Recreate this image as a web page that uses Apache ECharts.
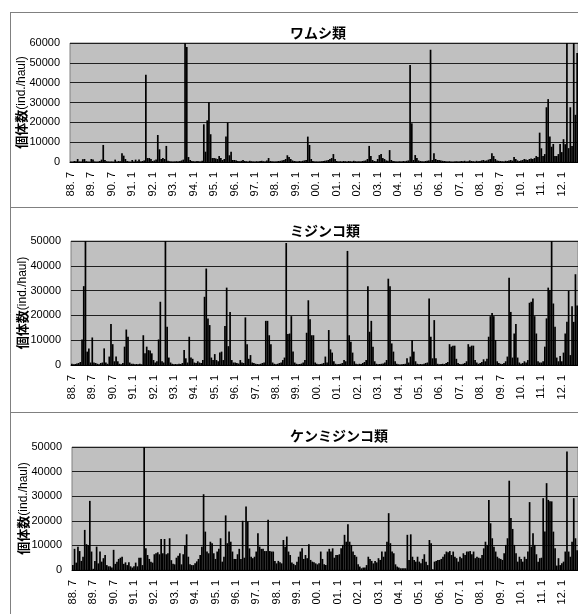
<!DOCTYPE html>
<html><head><meta charset="utf-8">
<script src="https://cdn.jsdelivr.net/npm/echarts@6/dist/echarts.min.js"></script>
<style>html,body{margin:0;padding:0;background:#fff;overflow:hidden}#c{width:578px;height:614px}</style>
</head><body><div id="c"></div>
<script>
const tickLabels = ['88. 7','89. 7','90. 7','91. 1','92. 1','93. 1','94. 1','95. 1','96. 1','97. 1','98. 1','99. 1','00. 1','01. 1','02. 1','03. 1','04. 1','05. 1','06. 1','07. 1','08. 1','09. 7','10. 1','11. 1','12. 1'];

const titles = ['ワムシ類', 'ミジンコ類', 'ケンミジンコ類'];

const wamushi = [
300,200,500,400,1500,300,200,1400,1500,400,300,200,
1500,1200,300,200,300,500,1200,8600,1000,400,300,200,
300,200,1200,300,500,400,4400,3200,1500,500,300,200,
1000,300,1200,400,1300,300,500,800,44000,2000,2000,1500,
500,800,1200,13600,6400,1500,2000,1500,8100,600,400,300,
200,300,400,300,500,800,1200,60000,58000,2500,1000,500,
400,300,500,400,300,600,19000,5200,21000,30200,14000,2000,
2000,1800,1500,3000,2000,1000,1500,12800,19900,3400,5200,1000,
1000,800,500,400,600,1000,500,400,300,600,400,300,
300,400,300,500,600,400,300,800,2000,500,400,300,
300,400,500,600,800,1000,1500,3400,2500,1500,800,500,
400,300,500,400,600,800,1000,12800,8600,1500,500,300,
300,200,300,400,500,600,800,1000,1500,2000,4000,1500,
500,300,400,300,500,400,300,500,400,300,600,400,
300,400,300,500,600,800,1500,8100,3000,1000,500,400,
1500,3500,4000,2000,1500,800,600,6000,1000,500,400,300,
300,400,300,500,400,600,800,48900,19500,1000,3500,2000,
800,500,400,300,500,600,800,56600,1000,4400,1500,1000,
1000,800,600,500,400,300,400,300,200,300,400,300,
300,500,400,600,300,400,800,500,400,300,600,400,
500,800,1000,600,800,1200,1500,4400,3000,1500,800,600,
500,400,300,600,500,800,1000,700,2500,1500,800,500,
800,1000,1500,1200,1000,1500,1800,1500,2000,3000,2500,14800,
6900,3000,4000,27600,31700,12800,7700,9100,3000,3000,4000,9100,
5000,11500,9000,60000,7000,27600,8100,60000,23800,55000
];

const mijinko = [
500,300,400,600,800,1200,10300,31800,50000,5400,6700,1000,
11100,1000,800,500,300,800,1000,6700,1000,500,3400,16500,
8400,1500,3400,1500,500,300,800,7400,14300,11400,1000,500,
500,300,400,300,500,300,12000,4700,7400,6000,5800,4700,
2000,1000,1500,10300,25500,1500,1000,50000,15400,3000,1000,500,
300,400,300,500,400,800,6000,2700,1000,11400,3000,2500,
1000,800,1500,1000,800,2000,27500,38900,18800,16100,3000,2000,
4400,2000,1500,5000,5400,2000,15700,31200,7600,21400,2000,1000,
1000,800,600,2000,1000,800,19200,8400,2500,4000,1000,800,
500,400,300,500,800,1000,17800,17800,12000,8400,1000,500,
300,500,800,1000,2000,3000,49200,12500,12700,19700,5400,1000,
500,300,400,600,1000,2000,13000,26100,18400,12000,12000,1000,
500,300,400,500,800,3400,1000,14100,6300,5000,1500,500,
300,400,500,800,2000,1500,46000,12000,9400,5000,1500,500,
300,500,400,800,1200,2000,31800,13400,17800,7400,1500,500,
300,400,500,600,1000,2000,34800,31800,8700,5400,1500,500,
300,200,300,400,500,2700,1000,3400,10100,5400,1500,500,
300,400,300,500,800,1000,26800,11400,2700,18100,2700,500,
300,400,500,400,800,1200,8400,7400,7800,7800,2500,800,
400,300,500,800,1500,8400,7400,7800,7800,2000,1000,500,
800,1200,2300,1500,2500,11400,19700,21000,19700,10100,1500,800,
500,400,800,1500,3400,35200,21400,3000,12700,16500,3000,1000,
500,800,1500,1000,2000,25100,25500,26800,19700,12700,1500,1000,
1000,1500,7400,18800,31200,30200,50000,24800,15400,3000,1500,3600,
1500,5000,12700,17400,29900,4000,23700,17400,36600,24000
];

const kenmijinko = [
2000,8600,3000,9500,7700,3700,5400,16300,10500,10200,28100,7500,
500,3700,9500,2700,7500,3400,4800,6100,2000,1500,1500,1000,
8200,2500,3400,4500,5000,5400,2500,3100,2000,3100,1500,1000,
1500,3000,1500,5000,5000,2000,50000,8800,6100,4500,3400,3000,
6400,6800,7200,6400,12600,6800,12600,6400,6800,12900,4000,2500,
2300,5000,5800,6800,2300,6400,10200,14500,5400,2300,2000,2000,
2700,3500,4500,6100,9500,30800,15600,7500,6800,11500,10900,6800,
4500,7500,8600,12900,3400,5400,22200,10900,15600,11500,7500,4500,
4500,6400,8600,4500,20000,5000,25800,19700,8800,5400,4800,5400,
7500,14900,9500,8600,8600,7700,7700,20400,7700,7500,7500,3700,
2700,3700,3100,2700,12200,9500,13600,7500,6100,3000,2500,2000,
3400,5400,7500,8800,4500,6100,4800,10500,4100,3400,3100,2700,
2300,2700,7500,4500,2300,2000,7500,8600,7500,8800,5000,6100,
6100,6400,8800,10200,14300,11500,18600,11500,10200,7500,6100,5400,
2300,1400,700,1000,1000,2000,5400,4500,3700,2700,3700,3100,
4800,4100,7500,5400,7500,11500,23100,10900,7500,6800,2300,1400,
1000,700,700,700,700,14300,4100,14500,5400,4100,3400,5400,
3400,2700,4500,6400,3400,2000,12200,10900,300,3400,3700,4100,
4100,4500,5400,6400,7500,7200,7700,6100,7500,5400,4800,3400,
5400,4800,6800,6100,7500,7500,7700,6400,7500,4800,5400,5000,
4800,6100,8800,11500,10200,28500,19000,12900,9500,7500,5400,4800,
4500,4100,6800,10200,12900,36300,21100,16700,10200,6800,3400,5400,
4500,3400,5400,4500,7500,27600,9500,14900,10200,6400,3400,4800,
5000,29200,15600,35300,28500,27900,27900,15600,8800,1800,4800,2000,
2700,3400,7500,48200,7500,5400,11500,29200,12900,8000
];

const yMax = [60000, 50000, 50000];
const seriesData = [wamushi, mijinko, kenmijinko];
const categories = wamushi.map((_, i) => String(i));

const grids = [
  {left: 70, top: 43, height: 119, right: 0},
  {left: 71, top: 241, height: 124, right: 0},
  {left: 72, top: 447, height: 123, right: 0}
];
const titleTops = [21, 219, 424];
const latin = "'Liberation Sans', Arial, sans-serif";
const jp = "'Noto Sans CJK JP', sans-serif";

const chart = echarts.init(document.getElementById('c'), null, {renderer: 'canvas'});
const option = {
  animation: false,
  backgroundColor: '#fff',
  title: titles.map((t, i) => ({
    text: t, left: 285, top: titleTops[i],
    textStyle: {fontFamily: jp, fontSize: 14, fontWeight: 'bold', color: '#000'}
  })),
  grid: grids.map(g => Object.assign({show: true, backgroundColor: '#c0c0c0', borderColor: '#808080', borderWidth: 1}, g)),
  xAxis: grids.map((g, i) => ({
    type: 'category', gridIndex: i, data: categories, boundaryGap: true,
    axisLine: {show: true, lineStyle: {color: '#000', width: 1}},
    axisTick: {show: false},
    axisLabel: {
      interval: 11, rotate: 90, margin: 10, fontSize: 11, fontFamily: latin, color: '#000',
      formatter: (v, idx) => tickLabels[Math.round(Number(v) / 12)] || ''
    },
    splitLine: {show: false}
  })),
  yAxis: grids.map((g, i) => ({
    type: 'value', gridIndex: i, min: 0, max: yMax[i], interval: 10000,
    axisLine: {show: false}, axisTick: {show: false},
    axisLabel: {fontSize: 11, fontFamily: latin, color: '#000', margin: 10, formatter: v => String(v)},
    splitLine: {show: true, lineStyle: {color: '#202020', width: 1}},
    name: '{b|個体数}(ind./haul)', nameLocation: 'middle', nameRotate: 90, nameGap: 42,
    nameMoveOverlap: false,
    nameTextStyle: {fontSize: 12, fontFamily: latin, color: '#000',
      rich: {b: {fontFamily: jp, fontWeight: 'bold', fontSize: 13, color: '#000'}}}
  })),
  series: seriesData.map((d, i) => ({
    type: 'bar', xAxisIndex: i, yAxisIndex: i, data: d,
    barCategoryGap: '0%', itemStyle: {color: '#000'}, silent: true
  })),
  graphic: [
    {type: 'line', shape: {x1: 10.5, y1: 12.5, x2: 10.5, y2: 614}, style: {stroke: '#808080', lineWidth: 1}, silent: true},
    {type: 'line', shape: {x1: 10, y1: 12.5, x2: 578, y2: 12.5}, style: {stroke: '#808080', lineWidth: 1}, silent: true},
    {type: 'line', shape: {x1: 10, y1: 207.5, x2: 578, y2: 207.5}, style: {stroke: '#808080', lineWidth: 1}, silent: true},
    {type: 'line', shape: {x1: 10, y1: 412.5, x2: 578, y2: 412.5}, style: {stroke: '#808080', lineWidth: 1}, silent: true}
  ]
};
chart.setOption(option);
</script></body></html>
